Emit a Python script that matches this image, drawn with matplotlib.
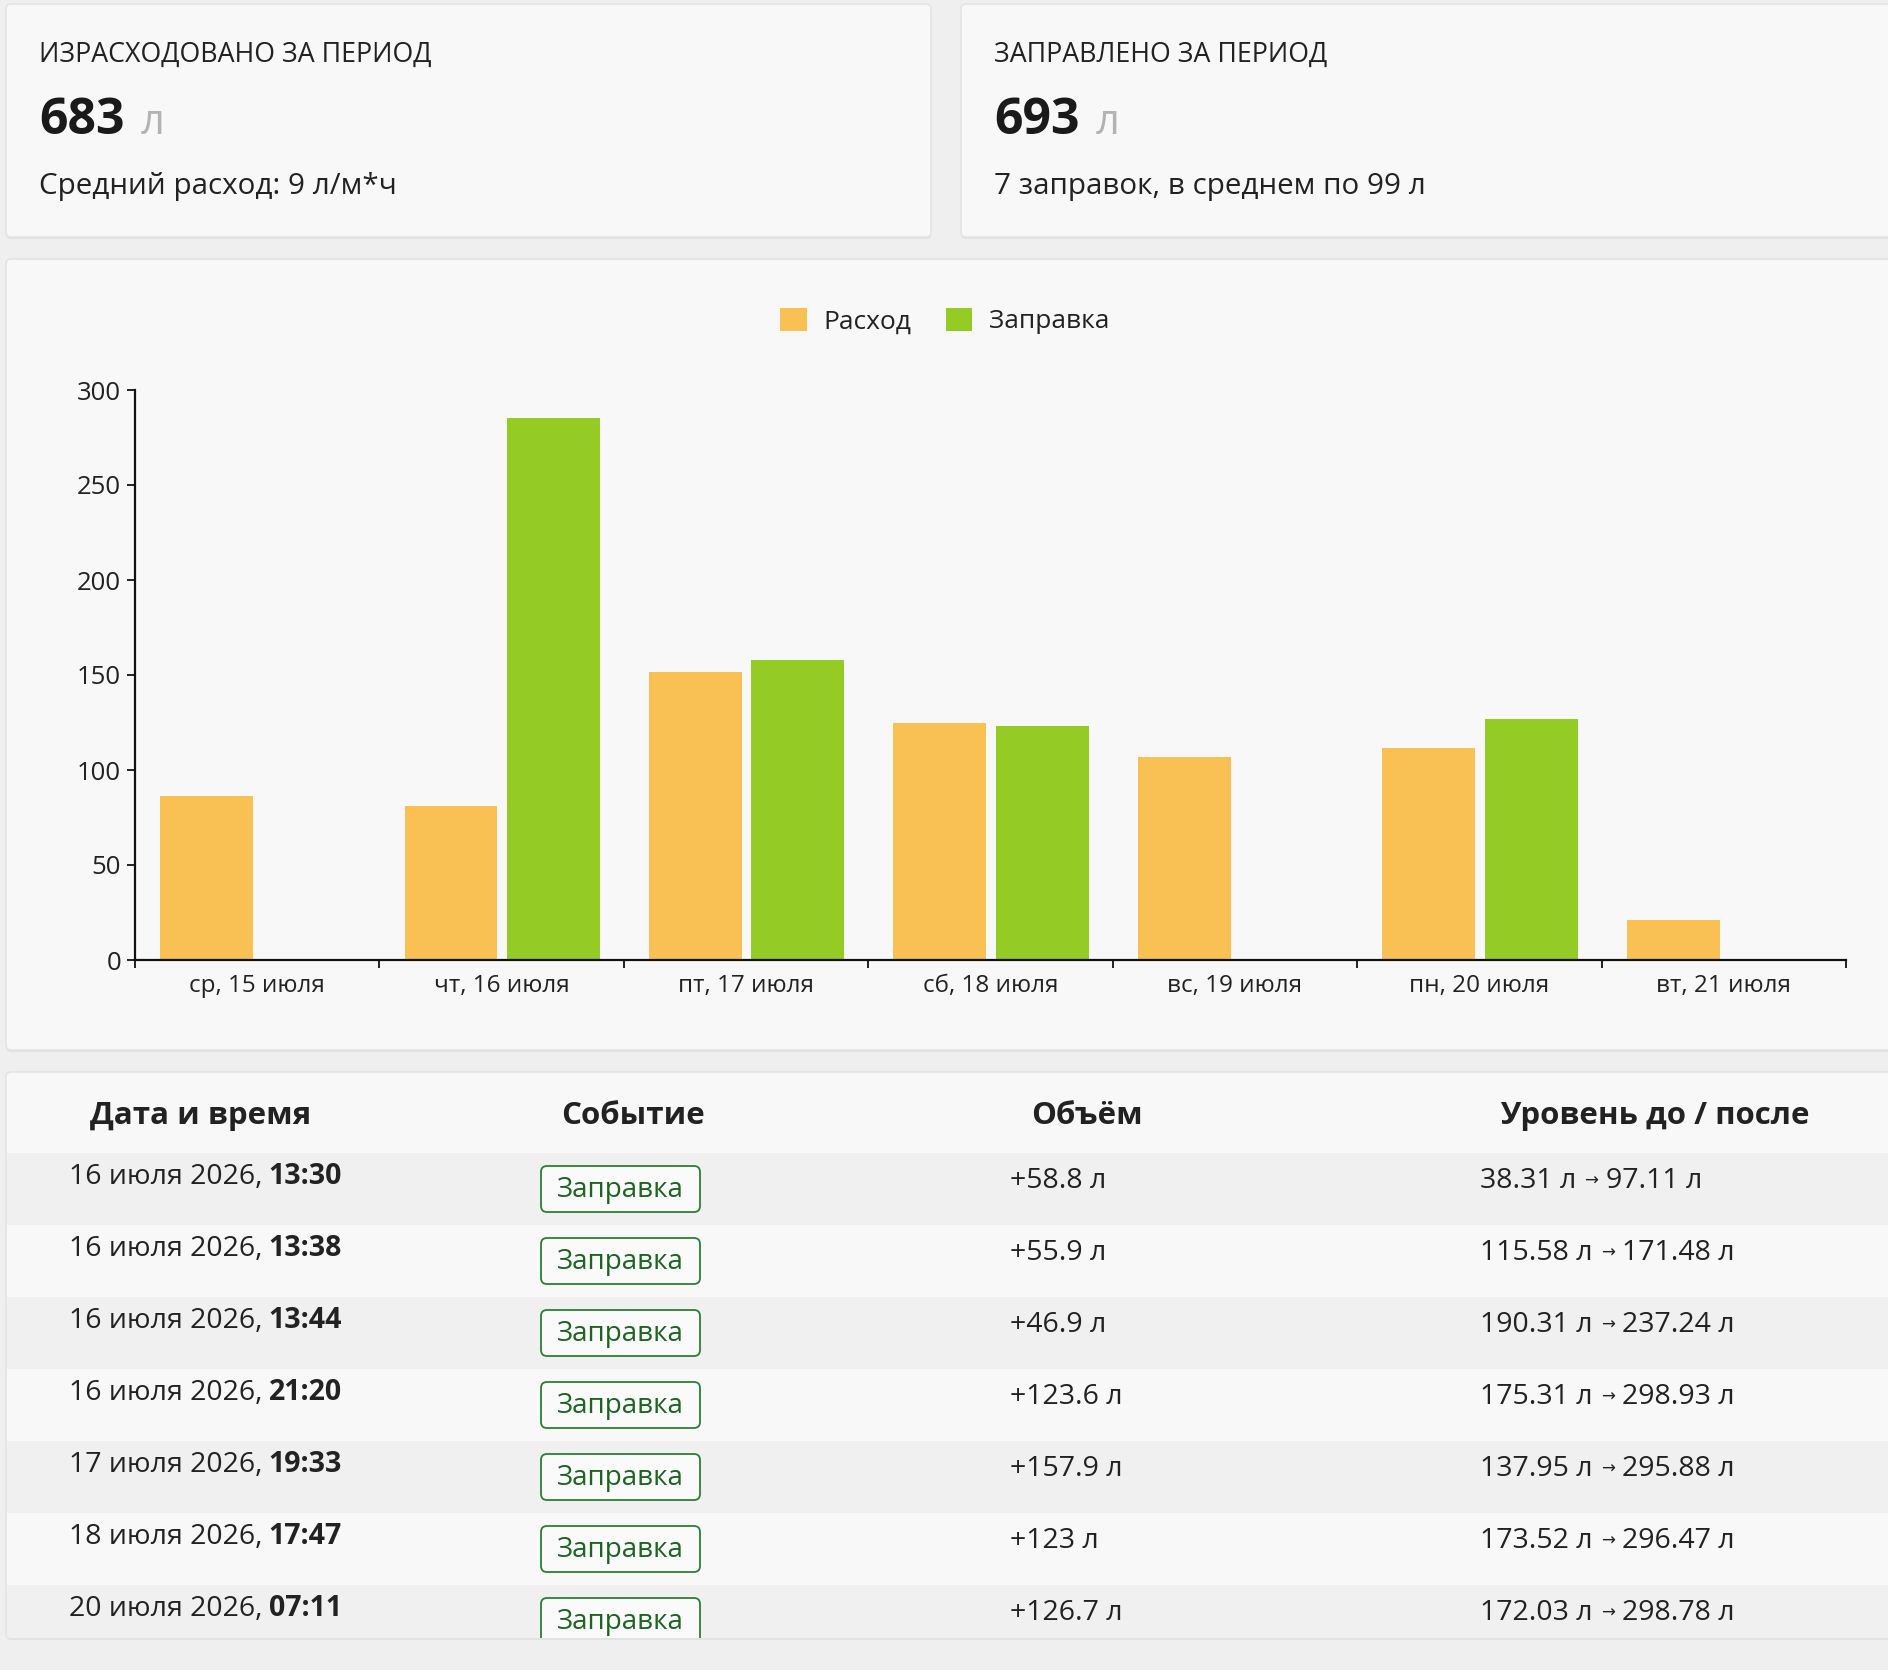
import matplotlib
matplotlib.use('Agg')
import matplotlib.pyplot as plt
from matplotlib.patches import FancyBboxPatch, Rectangle
import numpy as np

plt.rcParams['font.family'] = ['Open Sans', 'DejaVu Sans']

# chart data
days = ['ср, 15 июля', 'чт, 16 июля', 'пт, 17 июля', 'сб, 18 июля',
        'вс, 19 июля', 'пн, 20 июля', 'вт, 21 июля']
consumed = [86.3, 81.2, 151.5, 124.9, 106.6, 111.6, 20.9]
refueled = [0, 285.2, 157.9, 123.0, 0, 126.7, 0]
y_ticks = [0, 50, 100, 150, 200, 250, 300]

# summary cards
total_consumed = 683
total_refueled = 693
avg_rate = 9
refuel_count = 7
refuel_avg = 99

# refuel table
event_dates = ['16 июля 2026,', '16 июля 2026,', '16 июля 2026,', '16 июля 2026,',
               '17 июля 2026,', '18 июля 2026,', '20 июля 2026,']
event_times = ['13:30', '13:38', '13:44', '21:20', '19:33', '17:47', '07:11']
event_volumes = [58.8, 55.9, 46.9, 123.6, 157.9, 123, 126.7]
level_before = [38.31, 115.58, 190.31, 175.31, 137.95, 173.52, 172.03]
level_after = [97.11, 171.48, 237.24, 298.93, 295.88, 296.47, 298.78]

orange = '#f9c153'
green = '#94cb25'
ink = '#222222'

W, H = 1888, 1670
fig = plt.figure(figsize=(W / 100, H / 100), dpi=100)
fig.patch.set_facecolor('#efefef')
bg = fig.add_axes([0, 0, 1, 1])
bg.set_xlim(0, W)
bg.set_ylim(H, 0)
bg.axis('off')


def card(x0, y0, x1, y1):
    sh = FancyBboxPatch((x0, y0 + 2), x1 - x0, y1 - y0, boxstyle='round,pad=0,rounding_size=5',
                        fc='#e2e2e2', ec='none')
    bg.add_patch(sh)
    p = FancyBboxPatch((x0, y0), x1 - x0, y1 - y0, boxstyle='round,pad=0,rounding_size=5',
                       fc='#f8f8f8', ec='#e4e4e4', lw=1.2)
    bg.add_patch(p)
    return p


card(6, 4, 931, 237)
card(961, 4, 1894, 237)
card(6, 259, 1894, 1050)
table_card = card(6, 1072, 1894, 1638)

renderer = fig.canvas.get_renderer()


def right_edge(t):
    bb = t.get_window_extent(renderer=renderer)
    return bg.transData.inverted().transform((bb.x1, bb.y0))[0]


# summary cards
cards = [
    (39, 'ИЗРАСХОДОВАНО ЗА ПЕРИОД', total_consumed, f'Средний расход: {avg_rate} л/м*ч'),
    (994, 'ЗАПРАВЛЕНО ЗА ПЕРИОД', total_refueled,
     f'{refuel_count} заправок, в среднем по {refuel_avg} л'),
]
for cx, title, num, sub in cards:
    bg.text(cx, 62, title, fontsize=19.3, color=ink, va='baseline')
    t = bg.text(cx, 134, str(num), fontsize=36, fontweight='bold', color='#1a1a1a', va='baseline')
    bg.text(right_edge(t) + 16, 134, 'л', fontsize=30, color='#b3b3b3', va='baseline')
    bg.text(cx, 194, sub, fontsize=21.3, color=ink, va='baseline')

# bar chart
ax = fig.add_axes([135 / W, 1 - 960 / H, (1846 - 135) / W, 570 / H])
ax.set_facecolor('none')
x = np.arange(len(days))
b1 = ax.bar(x - 0.207, consumed, 0.38, color=orange, label='Расход')
b2 = ax.bar(x + 0.212, refueled, 0.38, color=green, label='Заправка')
ax.set_xlim(-0.5, len(days) - 0.5)
ax.set_ylim(0, 300)
for s in ['top', 'right']:
    ax.spines[s].set_visible(False)
for s in ['left', 'bottom']:
    ax.spines[s].set_linewidth(1.6)
    ax.spines[s].set_color('#111111')
ax.set_yticks(y_ticks)
ax.tick_params(axis='y', length=6, width=1.4, pad=4, labelsize=18.5, colors=ink)
ax.set_xticks(np.arange(-0.5, len(days), 1))
ax.set_xticklabels([])
ax.set_xticks(x, minor=True)
ax.set_xticklabels(days, minor=True)
ax.tick_params(axis='x', which='major', length=6, width=1.4, colors=ink)
ax.tick_params(axis='x', which='minor', length=0, pad=10, labelsize=17.5, colors=ink)

fig.legend(handles=[b1, b2], loc='center', bbox_to_anchor=(945 / W, 1 - 321 / H), ncol=2,
           frameon=False, fontsize=19, handlelength=1.0, handleheight=1.0,
           handletextpad=0.65, columnspacing=1.3, labelcolor=ink)

# table
headers = ['Дата и время', 'Событие', 'Объём', 'Уровень до / после']
header_x = [90, 561, 1031, 1500]
for hx, h in zip(header_x, headers):
    bg.text(hx, 1124, h, fontsize=22.5, fontweight='bold', color=ink, va='baseline')

row_h = 72
for i in range(len(event_times)):
    top = 1153 + row_h * i
    arts = []
    arts.append(bg.add_patch(Rectangle((7, top), W, row_h,
                                       fc='#f0f0f0' if i % 2 == 0 else '#f8f8f8', ec='none')))
    t = bg.text(69, top + 31, event_dates[i], fontsize=20.5, color=ink, va='baseline')
    arts.append(t)
    arts.append(bg.text(right_edge(t) + 6, top + 31, event_times[i], fontsize=20.5,
                        fontweight='bold', color=ink, va='baseline'))
    arts.append(bg.add_patch(FancyBboxPatch((541, top + 13), 159, 46,
                                            boxstyle='round,pad=0,rounding_size=6',
                                            fc='#fafafa', ec='#2e7d32', lw=1.3)))
    arts.append(bg.text(620, top + 44, 'Заправка', fontsize=20, color='#1d6322',
                        ha='center', va='baseline'))
    arts.append(bg.text(1010, top + 35, f'+{event_volumes[i]:g} л', fontsize=20.5,
                        color=ink, va='baseline'))
    t1 = bg.text(1480, top + 35, f'{level_before[i]:.2f} л', fontsize=20.5,
                 color=ink, va='baseline')
    t2 = bg.text(right_edge(t1) + 8, top + 33, '→', fontsize=12, color=ink, va='baseline')
    t3 = bg.text(right_edge(t2) + 8, top + 35, f'{level_after[i]:.2f} л', fontsize=20.5,
                 color=ink, va='baseline')
    arts += [t1, t2, t3]
    for a in arts:
        a.set_clip_path(table_card)

fig.savefig('out.png', dpi=100, facecolor=fig.get_facecolor())
